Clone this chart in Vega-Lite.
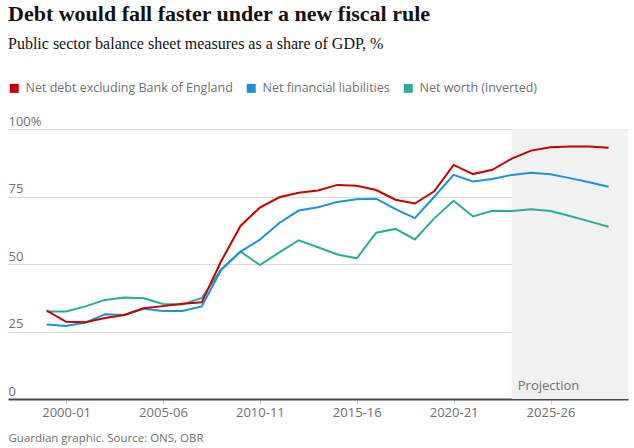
{
  "$schema": "https://vega.github.io/schema/vega-lite/v6.json",
  "width": 620,
  "height": 270,
  "autosize": {"type": "none"},
  "padding": {"left": 8, "top": 129, "right": 6, "bottom": 49},
  "background": "#ffffff",
  "title": {
    "text": "Debt would fall faster under a new fiscal rule",
    "subtitle": "Public sector balance sheet measures as a share of GDP, %",
    "anchor": "start",
    "frame": "group",
    "font": "Liberation Serif",
    "fontSize": 22,
    "fontWeight": "bold",
    "color": "#121212",
    "subtitleFont": "Liberation Serif",
    "subtitleFontSize": 16,
    "subtitleColor": "#121212",
    "subtitlePadding": 10,
    "offset": 29
  },
  "config": {
    "view": {"stroke": null},
    "axis": {"labelFont": "Open Sans", "labelFontSize": 13, "labelColor": "#707070"}
  },
  "datasets": {
    "shade": [{"start": 2023, "end": 2029, "label": "Projection"}],
    "lines": [
      {"year": 1999, "series": "Net worth (inverted)", "value": 32.4},
      {"year": 2000, "series": "Net worth (inverted)", "value": 32.4},
      {"year": 2001, "series": "Net worth (inverted)", "value": 34.3},
      {"year": 2002, "series": "Net worth (inverted)", "value": 36.7},
      {"year": 2003, "series": "Net worth (inverted)", "value": 37.6},
      {"year": 2004, "series": "Net worth (inverted)", "value": 37.3},
      {"year": 2005, "series": "Net worth (inverted)", "value": 35.2},
      {"year": 2006, "series": "Net worth (inverted)", "value": 35.0},
      {"year": 2007, "series": "Net worth (inverted)", "value": 37.4},
      {"year": 2008, "series": "Net worth (inverted)", "value": 48.0},
      {"year": 2009, "series": "Net worth (inverted)", "value": 54.6},
      {"year": 2010, "series": "Net worth (inverted)", "value": 49.6},
      {"year": 2011, "series": "Net worth (inverted)", "value": 54.3},
      {"year": 2012, "series": "Net worth (inverted)", "value": 58.8},
      {"year": 2013, "series": "Net worth (inverted)", "value": 56.2},
      {"year": 2014, "series": "Net worth (inverted)", "value": 53.5},
      {"year": 2015, "series": "Net worth (inverted)", "value": 52.1},
      {"year": 2016, "series": "Net worth (inverted)", "value": 61.6},
      {"year": 2017, "series": "Net worth (inverted)", "value": 63.0},
      {"year": 2018, "series": "Net worth (inverted)", "value": 59.1},
      {"year": 2019, "series": "Net worth (inverted)", "value": 66.9},
      {"year": 2020, "series": "Net worth (inverted)", "value": 73.4},
      {"year": 2021, "series": "Net worth (inverted)", "value": 67.6},
      {"year": 2022, "series": "Net worth (inverted)", "value": 69.7},
      {"year": 2023, "series": "Net worth (inverted)", "value": 69.6},
      {"year": 2024, "series": "Net worth (inverted)", "value": 70.3},
      {"year": 2025, "series": "Net worth (inverted)", "value": 69.6},
      {"year": 2026, "series": "Net worth (inverted)", "value": 67.8},
      {"year": 2027, "series": "Net worth (inverted)", "value": 65.8},
      {"year": 2028, "series": "Net worth (inverted)", "value": 63.8},
      {"year": 1999, "series": "Net financial liabilities", "value": 27.6},
      {"year": 2000, "series": "Net financial liabilities", "value": 27.0},
      {"year": 2001, "series": "Net financial liabilities", "value": 28.3},
      {"year": 2002, "series": "Net financial liabilities", "value": 31.4},
      {"year": 2003, "series": "Net financial liabilities", "value": 31.1},
      {"year": 2004, "series": "Net financial liabilities", "value": 33.4},
      {"year": 2005, "series": "Net financial liabilities", "value": 32.6},
      {"year": 2006, "series": "Net financial liabilities", "value": 32.6},
      {"year": 2007, "series": "Net financial liabilities", "value": 34.3},
      {"year": 2008, "series": "Net financial liabilities", "value": 47.8},
      {"year": 2009, "series": "Net financial liabilities", "value": 54.6},
      {"year": 2010, "series": "Net financial liabilities", "value": 59.0},
      {"year": 2011, "series": "Net financial liabilities", "value": 65.2},
      {"year": 2012, "series": "Net financial liabilities", "value": 69.8},
      {"year": 2013, "series": "Net financial liabilities", "value": 71.0},
      {"year": 2014, "series": "Net financial liabilities", "value": 73.0},
      {"year": 2015, "series": "Net financial liabilities", "value": 74.0},
      {"year": 2016, "series": "Net financial liabilities", "value": 74.2},
      {"year": 2017, "series": "Net financial liabilities", "value": 70.3},
      {"year": 2018, "series": "Net financial liabilities", "value": 67.0},
      {"year": 2019, "series": "Net financial liabilities", "value": 74.9},
      {"year": 2020, "series": "Net financial liabilities", "value": 83.0},
      {"year": 2021, "series": "Net financial liabilities", "value": 80.6},
      {"year": 2022, "series": "Net financial liabilities", "value": 81.5},
      {"year": 2023, "series": "Net financial liabilities", "value": 83.0},
      {"year": 2024, "series": "Net financial liabilities", "value": 83.8},
      {"year": 2025, "series": "Net financial liabilities", "value": 83.2},
      {"year": 2026, "series": "Net financial liabilities", "value": 81.8},
      {"year": 2027, "series": "Net financial liabilities", "value": 80.3},
      {"year": 2028, "series": "Net financial liabilities", "value": 78.6},
      {"year": 1999, "series": "Net debt excluding Bank of England", "value": 32.7},
      {"year": 2000, "series": "Net debt excluding Bank of England", "value": 28.6},
      {"year": 2001, "series": "Net debt excluding Bank of England", "value": 28.4},
      {"year": 2002, "series": "Net debt excluding Bank of England", "value": 30.0},
      {"year": 2003, "series": "Net debt excluding Bank of England", "value": 31.1},
      {"year": 2004, "series": "Net debt excluding Bank of England", "value": 33.6},
      {"year": 2005, "series": "Net debt excluding Bank of England", "value": 34.4},
      {"year": 2006, "series": "Net debt excluding Bank of England", "value": 35.3},
      {"year": 2007, "series": "Net debt excluding Bank of England", "value": 35.8},
      {"year": 2008, "series": "Net debt excluding Bank of England", "value": 51.0},
      {"year": 2009, "series": "Net debt excluding Bank of England", "value": 64.1},
      {"year": 2010, "series": "Net debt excluding Bank of England", "value": 70.9},
      {"year": 2011, "series": "Net debt excluding Bank of England", "value": 74.7},
      {"year": 2012, "series": "Net debt excluding Bank of England", "value": 76.4},
      {"year": 2013, "series": "Net debt excluding Bank of England", "value": 77.2},
      {"year": 2014, "series": "Net debt excluding Bank of England", "value": 79.3},
      {"year": 2015, "series": "Net debt excluding Bank of England", "value": 79.0},
      {"year": 2016, "series": "Net debt excluding Bank of England", "value": 77.4},
      {"year": 2017, "series": "Net debt excluding Bank of England", "value": 73.8},
      {"year": 2018, "series": "Net debt excluding Bank of England", "value": 72.4},
      {"year": 2019, "series": "Net debt excluding Bank of England", "value": 76.9},
      {"year": 2020, "series": "Net debt excluding Bank of England", "value": 86.7},
      {"year": 2021, "series": "Net debt excluding Bank of England", "value": 83.3},
      {"year": 2022, "series": "Net debt excluding Bank of England", "value": 84.9},
      {"year": 2023, "series": "Net debt excluding Bank of England", "value": 89.0},
      {"year": 2024, "series": "Net debt excluding Bank of England", "value": 92.0},
      {"year": 2025, "series": "Net debt excluding Bank of England", "value": 93.2},
      {"year": 2026, "series": "Net debt excluding Bank of England", "value": 93.5},
      {"year": 2027, "series": "Net debt excluding Bank of England", "value": 93.5},
      {"year": 2028, "series": "Net debt excluding Bank of England", "value": 93.1}
    ]
  },
  "layer": [
    {
      "data": {"name": "shade"},
      "mark": {"type": "rect", "color": "#f1f1f1"},
      "encoding": {
        "x": {
          "field": "start",
          "type": "quantitative",
          "scale": {"domain": [1997, 2029], "nice": false, "zero": false},
          "axis": {
            "values": [2000, 2005, 2010, 2015, 2020, 2025],
            "labelExpr": "datum.value + '-' + substring(toString(datum.value + 1), 2, 4)",
            "grid": false,
            "domain": true,
            "domainColor": "#4a4a4a",
            "domainWidth": 2,
            "ticks": true,
            "tickColor": "#cccccc",
            "tickSize": 5,
            "labelPadding": 2,
            "labelFlush": false,
            "title": "Guardian graphic. Source: ONS, OBR",
            "titleFont": "Open Sans",
            "titleFontSize": 11.5,
            "titleFontWeight": "normal",
            "titleColor": "#707070",
            "titleX": 0,
            "titleY": 39,
            "titleAlign": "left",
            "titleAnchor": "start",
            "titleBaseline": "middle"
          }
        },
        "x2": {"field": "end"}
      }
    },
    {
      "data": {"name": "shade"},
      "mark": {"type": "text", "align": "left", "baseline": "middle", "dx": 6, "dy": -13, "font": "Open Sans", "fontSize": 13, "color": "#707070"},
      "encoding": {
        "x": {"field": "start", "type": "quantitative"},
        "y": {"datum": 0, "type": "quantitative"},
        "text": {"field": "label"}
      }
    },
    {
      "data": {"name": "lines"},
      "mark": {"type": "line", "strokeWidth": 2},
      "encoding": {
        "x": {"field": "year", "type": "quantitative"},
        "y": {
          "field": "value",
          "type": "quantitative",
          "scale": {"domain": [0, 100], "nice": false},
          "axis": {
            "values": [0, 25, 50, 75, 100],
            "labelExpr": "datum.value == 100 ? '100%' : datum.label",
            "domain": false,
            "ticks": false,
            "tickSize": 0,
            "labelPadding": 0,
            "labelAlign": "left",
            "labelBaseline": "alphabetic",
            "labelOffset": -4,
            "grid": true,
            "gridColor": "#dcdcdc",
            "gridWidth": 1,
            "title": null
          }
        },
        "color": {
          "field": "series",
          "type": "nominal",
          "scale": {
            "domain": ["Net debt excluding Bank of England", "Net financial liabilities", "Net worth (inverted)"],
            "range": ["#c70000", "#1a94d4", "#26ae98"]
          },
          "legend": {
            "orient": "none",
            "legendX": 0,
            "legendY": -47,
            "direction": "horizontal",
            "title": null,
            "symbolType": "square",
            "symbolSize": 81,
            "symbolStrokeWidth": 0,
            "labelFont": "Open Sans",
            "labelFontSize": 12.5,
            "labelColor": "#707070",
            "labelLimit": 0,
            "labelOffset": 5,
            "columnPadding": 12,
            "padding": 0,
            "encode": {
              "symbols": {
                "update": {
                  "fill": {"scale": "color", "field": "value"},
                  "strokeWidth": {"value": 0},
                  "opacity": {"value": 1}
                }
              }
            }
          }
        }
      }
    }
  ]
}
